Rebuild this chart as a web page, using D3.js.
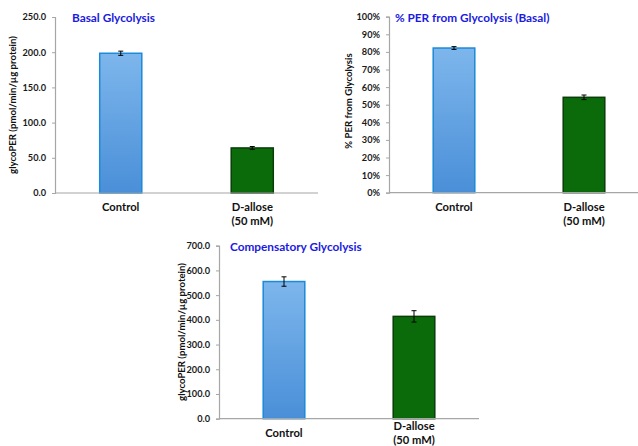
<!DOCTYPE html>
<html>
<head>
<meta charset="utf-8">
<script src="https://cdn.jsdelivr.net/npm/d3@7/dist/d3.min.js"></script>
<style>
  html, body { margin: 0; padding: 0; background: #ffffff; }
  svg { display: block; }
  text { font-family: Lato, "Open Sans", sans-serif; font-weight: bold; }
</style>
</head>
<body>
<svg id="chart" width="638" height="446"></svg>
<script>
// Treatment groups shared by every panel
const categories = ["Control", "D-allose\n(50 mM)"];

// Basal glycolysis (glycoPER, pmol/min/µg protein)
const basalValues = [198.5, 64.0];
const basalErrors = [3.0, 2.0];
const basalTicks = [0, 50, 100, 150, 200, 250];

// % PER from glycolysis (basal)
const perValues = [0.822, 0.542];
const perErrors = [0.008, 0.013];
const perTicks = [0, 0.1, 0.2, 0.3, 0.4, 0.5, 0.6, 0.7, 0.8, 0.9, 1.0];

// Compensatory glycolysis (glycoPER, pmol/min/µg protein)
const compValues = [555, 414];
const compErrors = [19, 23];
const compTicks = [0, 100, 200, 300, 400, 500, 600, 700];

const svg = d3.select("#chart");

// Blue gradient for the control bars
const defs = svg.append("defs");
const grad = defs.append("linearGradient")
  .attr("id", "blueGrad").attr("x1", 0).attr("y1", 0).attr("x2", 0).attr("y2", 1);
grad.append("stop").attr("offset", "0%").attr("stop-color", "#7db6ec");
grad.append("stop").attr("offset", "100%").attr("stop-color", "#4a8fd8");

const barFill = ["url(#blueGrad)", "#0b6b0b"];
const barStroke = ["#1b8ad8", "#0a3d0a"];

function drawPanel(p) {
  const g = svg.append("g");
  const x = d3.scaleBand().domain(categories).range([p.left, p.right]).paddingInner(0.68).paddingOuter(0.34);
  const y = d3.scaleLinear().domain([p.ticks[0], p.ticks[p.ticks.length - 1]]).range([p.bottom, p.top]);

  // y axis
  const yAxis = d3.axisLeft(y).tickValues(p.ticks).tickSize(3).tickPadding(6).tickFormat(p.fmt);
  const ya = g.append("g").attr("transform", `translate(${p.left},0)`).call(yAxis);
  ya.select(".domain").attr("stroke", "#a6a6a6").attr("stroke-width", 1.2);
  ya.selectAll(".tick line").attr("stroke", "#a6a6a6");
  ya.selectAll(".tick text").attr("fill", "#1a1a1a").style("font-size", "9.2px")
    .style("font-family", "Lato, sans-serif").style("font-weight", "bold");

  // bars
  g.selectAll("rect.bar").data(p.values).enter().append("rect")
    .attr("class", "bar")
    .attr("x", (d, i) => x(categories[i]))
    .attr("width", x.bandwidth())
    .attr("y", d => y(d))
    .attr("height", d => y(0) - y(d))
    .attr("fill", (d, i) => barFill[i])
    .attr("stroke", (d, i) => barStroke[i])
    .attr("stroke-width", 1.5);

  // error bars
  p.values.forEach((v, i) => {
    const cx = x(categories[i]) + x.bandwidth() / 2;
    const e = p.errors[i];
    g.append("line").attr("x1", cx).attr("x2", cx).attr("y1", y(v + e)).attr("y2", y(v - e))
      .attr("stroke", "#000").attr("stroke-width", 1);
    [v + e, v - e].forEach(t => {
      g.append("line").attr("x1", cx - 2.5).attr("x2", cx + 2.5).attr("y1", y(t)).attr("y2", y(t))
        .attr("stroke", "#000").attr("stroke-width", 1);
    });
  });

  // x axis line
  g.append("line").attr("x1", p.left).attr("x2", p.right).attr("y1", p.bottom).attr("y2", p.bottom)
    .attr("stroke", "#a6a6a6").attr("stroke-width", 1.2);

  // category labels
  categories.forEach((c, i) => {
    const cx = x(c) + x.bandwidth() / 2;
    const lines = c.split("\n");
    const base = p.labelBase[i];
    lines.forEach((ln, j) => {
      g.append("text").attr("x", cx).attr("y", base + j * 14)
        .attr("text-anchor", "middle").attr("fill", "#111").style("font-size", "11.2px").text(ln);
    });
  });

  // y axis title
  g.append("text")
    .attr("transform", `translate(${p.yTitleX},${p.yTitleY}) rotate(-90)`)
    .attr("text-anchor", "middle").attr("fill", "#111").style("font-size", "9.6px")
    .text(p.yTitle);

  // panel title
  g.append("text").attr("x", p.titleX).attr("y", p.titleY)
    .attr("fill", "#1a1ae0").style("font-size", "11.8px").text(p.title);
}

drawPanel({
  values: basalValues, errors: basalErrors, ticks: basalTicks,
  fmt: d3.format(".1f"),
  left: 55, right: 318, top: 17, bottom: 193,
  labelBase: [211, 211],
  yTitle: "glycoPER (pmol/min/µg protein)", yTitleX: 16, yTitleY: 105,
  title: "Basal Glycolysis", titleX: 72, titleY: 22
});

drawPanel({
  values: perValues, errors: perErrors, ticks: perTicks,
  fmt: d3.format(".0%"),
  left: 389, right: 649, top: 16.7, bottom: 192.7,
  labelBase: [211, 211],
  yTitle: "% PER from Glycolysis", yTitleX: 352, yTitleY: 101,
  title: "% PER from Glycolysis (Basal)", titleX: 395, titleY: 22
});

drawPanel({
  values: compValues, errors: compErrors, ticks: compTicks,
  fmt: d3.format(".1f"),
  left: 219, right: 479, top: 245.7, bottom: 418.7,
  labelBase: [437, 430],
  yTitle: "glycoPER (pmol/min/µg protein)", yTitleX: 184.5, yTitleY: 332,
  title: "Compensatory Glycolysis", titleX: 230, titleY: 251
});
</script>
</body>
</html>
